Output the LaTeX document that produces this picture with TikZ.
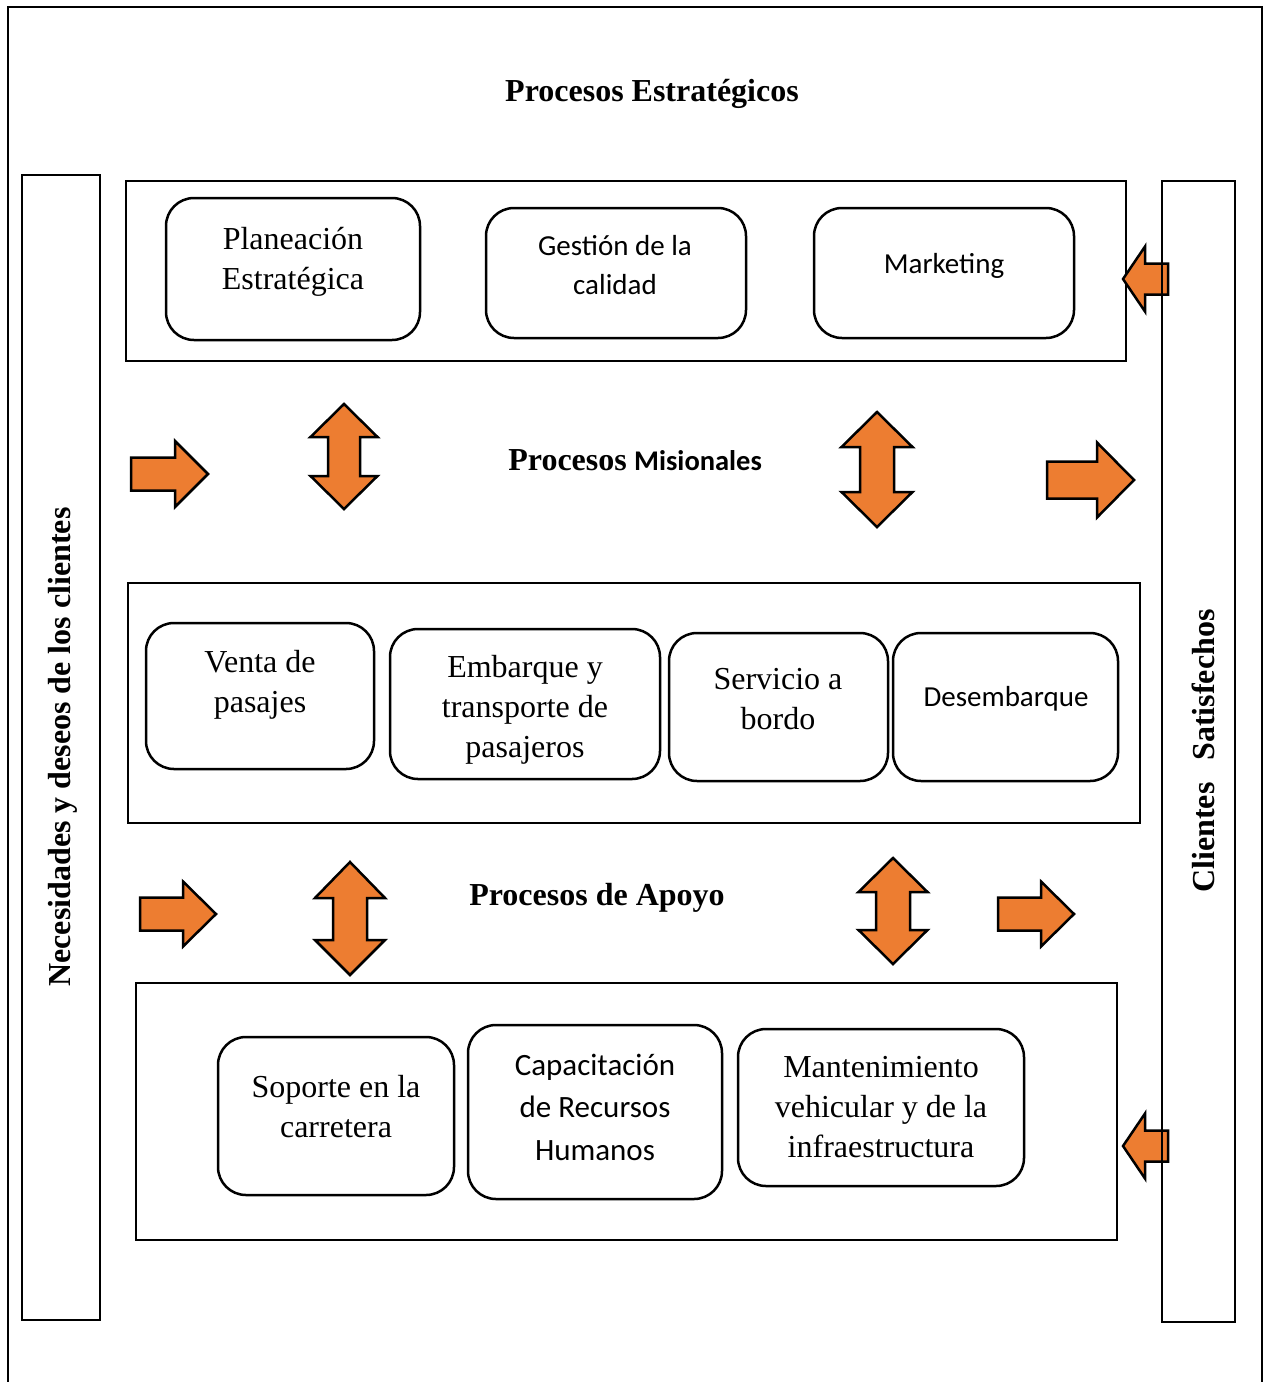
\documentclass[tikz,border=0pt]{standalone}
\usepackage{fontspec}
\setmainfont{Liberation Serif}
\newfontfamily\calibri{Carlito}
\begin{document}
\begin{tikzpicture}[x=1pt,y=-1pt,
  frame/.style={draw=black,line width=2.2pt},
  group/.style={draw=black,line width=2.5pt},
  proc/.style={draw=black,line width=2.5pt,rounded corners=28pt},
  serif/.style={font=\fontsize{32}{40}\selectfont,align=center,inner sep=0pt},
  sans/.style={font=\calibri\fontsize{29}{39}\selectfont,align=center,inner sep=0pt},
  heading/.style={font=\bfseries\fontsize{32}{38}\selectfont,inner sep=0pt},
  orarrow/.style={draw=black,line width=2.5pt,fill=arrorange,line join=miter}]
\definecolor{arrorange}{HTML}{ED7D31}
\useasboundingbox (0,0) rectangle (1269,1382);

% block arrows: right, left and double (vertical)
\newcommand\rarrowshape[6]{% x0, head base, tip, yc, shaft half, head half
  \draw[orarrow] (#1,#4-#5) -- (#2,#4-#5) -- (#2,#4-#6) -- (#3,#4) -- (#2,#4+#6) -- (#2,#4+#5) -- (#1,#4+#5) -- cycle;}
\newcommand\larrowshape[6]{% tip, head base, x1, yc, shaft half, head half
  \draw[orarrow] (#1,#4) -- (#2,#4-#6) -- (#2,#4-#5) -- (#3,#4-#5) -- (#3,#4+#5) -- (#2,#4+#5) -- (#2,#4+#6) -- cycle;}
\newcommand\darrowshape[7]{% cx, top, upper base, lower base, bottom, head half, shaft half
  \draw[orarrow] (#1,#2) -- (#1+#6,#3) -- (#1+#7,#3) -- (#1+#7,#4) -- (#1+#6,#4) -- (#1,#5)
    -- (#1-#6,#4) -- (#1-#7,#4) -- (#1-#7,#3) -- (#1-#6,#3) -- cycle;}

% outer frame
\draw[frame] (8,1390) -- (8,7) -- (1262,7) -- (1262,1390);

% headings
\node[heading] (hEst) at (652,94) {Procesos Estratégicos};
\node[heading,anchor=base east] (hMis1) at (627,470) {Procesos};
\node[anchor=base west,inner sep=0pt,font=\calibri\bfseries\fontsize{28.5}{34}\selectfont] (hMis2) at (634,470) {Misionales};
\node[heading] (hApo) at (597,898) {Procesos de Apoyo};

% strategic processes
\node[group,minimum width=1000pt,minimum height=180pt] (gEst) at (626,271) {};
\node[proc,minimum width=254pt,minimum height=142pt] (bPlan) at (293,269) {};
\node[serif] (tPlan) at (293,262) {Planeación\\Estratégica};
\node[proc,minimum width=260pt,minimum height=130pt] (bCal) at (616,273) {};
\node[sans] (tCal) at (615,265) {Gestión de la\\calidad};
\node[proc,minimum width=260pt,minimum height=130pt] (bMkt) at (944,273) {};
\node[sans] (tMkt) at (944,266) {Marketing};

% mission processes
\node[group,minimum width=1012pt,minimum height=240pt] (gMis) at (634,703) {};
\node[proc,minimum width=228pt,minimum height=146pt] (bVen) at (260,696) {};
\node[serif] (tVen) at (260,685) {Venta de\\pasajes};
\node[proc,minimum width=270pt,minimum height=150pt] (bEmb) at (525,704) {};
\node[serif] (tEmb) at (525,710) {Embarque y\\transporte de\\pasajeros};
\node[proc,minimum width=219pt,minimum height=148pt] (bSer) at (778.5,707) {};
\node[serif] (tSer) at (778,699) {Servicio a\\bordo};
\node[proc,minimum width=225pt,minimum height=148pt] (bDes) at (1005.5,707) {};
\node[sans] (tDes) at (1006,699) {Desembarque};

% support processes
\node[group,minimum width=981pt,minimum height=257pt] (gApo) at (626.5,1111.5) {};
\node[proc,minimum width=236pt,minimum height=158pt] (bSop) at (336,1116) {};
\node[serif] (tSop) at (336,1107) {Soporte en la\\carretera};
\node[proc,minimum width=254pt,minimum height=174pt] (bCap) at (595,1112) {};
\node[font=\calibri\fontsize{31}{42.5}\selectfont,align=center,inner sep=0pt] (tCap) at (595,1107) {Capacitación\\de Recursos\\Humanos};
\node[proc,minimum width=286pt,minimum height=157pt] (bMan) at (881,1107.5) {};
\node[serif] (tMan) at (881,1107) {Mantenimiento\\vehicular y de la\\infraestructura};

% flow arrows
\rarrowshape{131}{175}{208}{474}{16.5}{33}
\darrowshape{344}{404}{437}{476}{509}{33.5}{16}
\darrowshape{877}{412}{447}{492}{527}{35.5}{17}
\rarrowshape{1047}{1097}{1134}{480}{18.5}{37.5}
\rarrowshape{140}{183}{216}{914}{16.5}{32.5}
\darrowshape{350}{862}{898}{940}{975}{35}{17}
\darrowshape{893}{858}{892}{930}{964}{34.5}{17}
\rarrowshape{998}{1041}{1074}{914}{16.5}{32.5}
\larrowshape{1123}{1145}{1168}{279}{15.5}{32.5}
\larrowshape{1123}{1145}{1168}{1146}{15.5}{32.5}

% side bars
\node[group,minimum width=78pt,minimum height=1145pt] (barL) at (61,747.5) {};
\node[heading,rotate=90] (tBarL) at (63,747) {Necesidades y deseos de los clientes};
\node[group,minimum width=73pt,minimum height=1141pt] (barR) at (1198.5,751.5) {};
\node[heading,rotate=90] (tBarR) at (1203,751) {Clientes\hspace{22pt}Satisfechos};
\end{tikzpicture}
\end{document}
